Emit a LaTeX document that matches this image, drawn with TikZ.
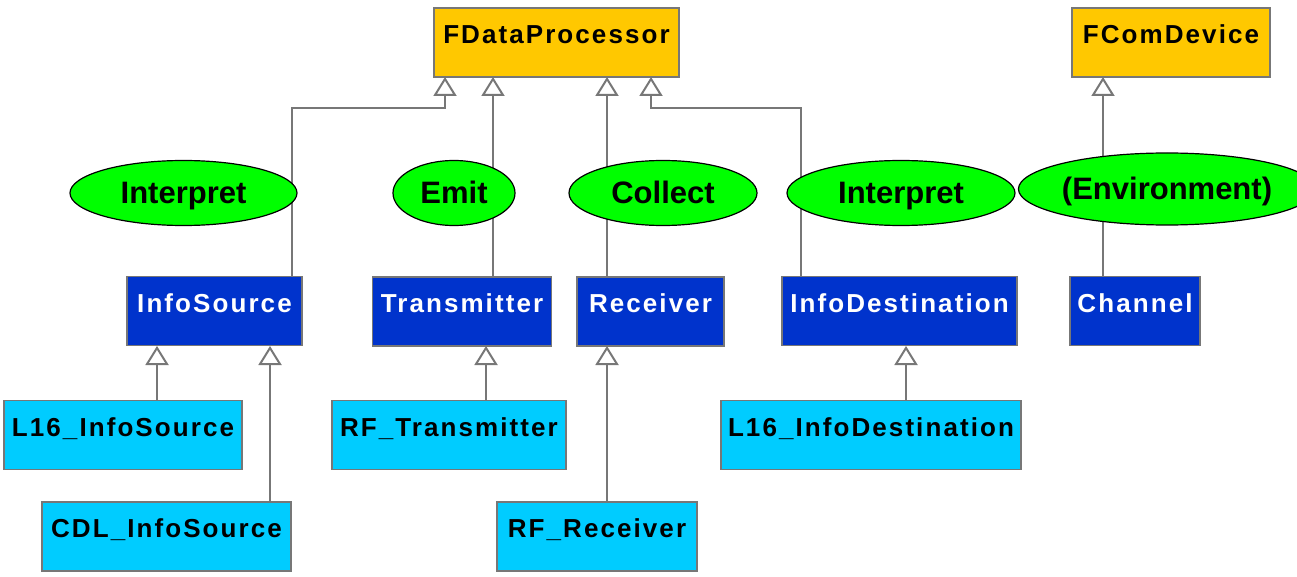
\documentclass[tikz,border=0pt]{standalone}
\usepackage{fontspec}
\setmainfont{Liberation Sans}
\newfontfamily\boxfont[LetterSpace=8]{Liberation Sans}
\usetikzlibrary{arrows.meta,shapes.geometric}
\definecolor{orangebox}{HTML}{FFC800}
\definecolor{bluebox}{HTML}{0033CC}
\definecolor{lightbox}{HTML}{00CCFF}
\definecolor{greenell}{HTML}{00FF00}
\definecolor{edgegray}{HTML}{777777}
\begin{document}
\begin{tikzpicture}[x=1pt,y=-1pt,
  cls/.style={draw=edgegray,line width=1.5pt,minimum height=69pt,inner sep=0pt,text depth=16pt,font=\boxfont\fontsize{26}{28}\selectfont\bfseries},
  abs/.style={cls,fill=orangebox,text=black},
  mid/.style={cls,fill=bluebox,text=white},
  leaf/.style={cls,fill=lightbox,text=black},
  role/.style={ellipse,draw=black,line width=1.2pt,fill=greenell,inner sep=0pt,text height=22pt,text depth=0pt,minimum height=65pt,font=\fontsize{31}{33}\selectfont\bfseries},
  inh/.style={draw=edgegray,line width=2pt,-{Triangle[open,width=23pt,length=19pt,fill=white]}}]
\useasboundingbox (0,0) rectangle (1297,577);
% classes
\node[abs,minimum width=245pt] (fdp) at (556.5,42.5) {FDataProcessor};
\node[abs,minimum width=198pt] (fcd) at (1171,42.5) {FComDevice};
\node[mid,minimum width=175pt] (is) at (214.5,311) {InfoSource};
\node[mid,minimum width=179pt] (tx) at (462,311.5) {Transmitter};
\node[mid,minimum width=147pt] (rx) at (650.5,311.5) {Receiver};
\node[mid,minimum width=235pt] (id) at (899.5,311) {InfoDestination};
\node[mid,minimum width=130pt] (ch) at (1135,311) {Channel};
\node[leaf,minimum width=238pt] (l16is) at (123,435) {L16\_InfoSource};
\node[leaf,minimum width=249pt] (cdlis) at (166.5,536.5) {CDL\_InfoSource};
\node[leaf,minimum width=234pt] (rftx) at (449,435) {RF\_Transmitter};
\node[leaf,minimum width=200pt] (rfrx) at (597,536.5) {RF\_Receiver};
\node[leaf,minimum width=300pt] (l16id) at (871,435) {L16\_InfoDestination};
% connector anchors
\coordinate (isT) at (292,276);
\coordinate (isB1) at (157,346);
\coordinate (isB2) at (270,346);
\coordinate (idT) at (801,276);
\coordinate (rxB) at (607,346);
\coordinate (txB) at (486,346);
\coordinate (idB) at (906,346);
% inheritance
\draw[inh] (isT) |- (368.5,108) -| (445,77);
\draw[inh] (tx.north -| 493,0) -- (493,77);
\draw[inh] (rx.north -| 607,0) -- (607,77);
\draw[inh] (idT) |- (726,108) -| (651,77);
\draw[inh] (ch.north -| 1103,0) -- (1103,77);
\draw[inh] (l16is.north -| 157,0) -- (isB1);
\draw[inh] (cdlis.north -| 270,0) -- (isB2);
\draw[inh] (rftx.north -| 486,0) -- (txB);
\draw[inh] (rfrx.north -| 607,0) -- (rxB);
\draw[inh] (l16id.north -| 906,0) -- (idB);
% roles
\node[role,minimum width=227pt] (r1) at (183.5,193) {Interpret};
\node[role,minimum width=122pt] (r2) at (454,193) {Emit};
\node[role,minimum width=188pt] (r3) at (663,193) {Collect};
\node[role,minimum width=228pt] (r4) at (901,193) {Interpret};
\node[role,minimum width=258pt,minimum height=72pt] (r5) at (1167,189) {(Environment)};
\end{tikzpicture}
\end{document}
